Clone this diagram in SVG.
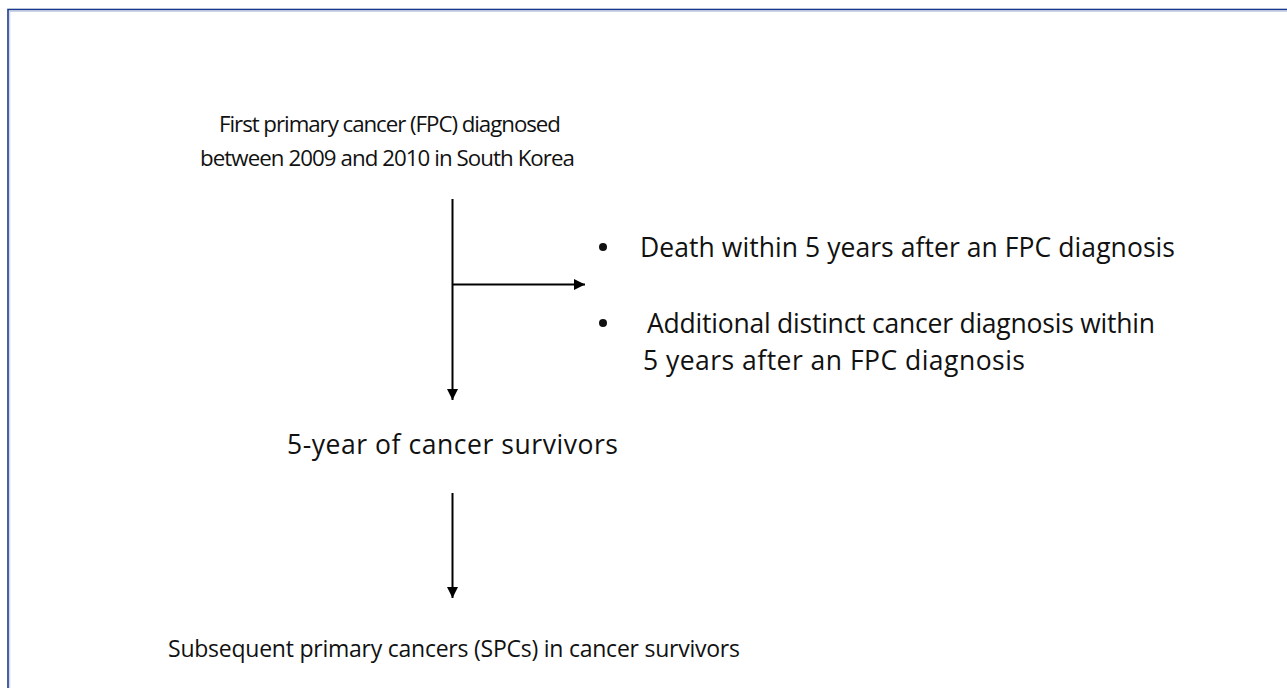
<svg xmlns="http://www.w3.org/2000/svg" width="1287" height="688" viewBox="0 0 1287 688">
<style>
text{font-family:"Open Sans","Noto Sans","Liberation Sans",sans-serif;fill:#111}
.top{font-size:22.3px}
.bul{font-size:26.5px}
.mid{font-size:26.5px}
.bot{font-size:23px}
.conn{stroke:#000;stroke-width:2;fill:none}
</style>
<defs>
<marker id="ah" markerUnits="userSpaceOnUse" markerWidth="12" markerHeight="12" refX="11" refY="5.5" orient="auto">
<path d="M0,0 L11,5.5 L0,11 z" fill="#000"/>
</marker>
</defs>
<rect width="1287" height="688" fill="#fff"/>
<g id="frame">
<rect x="8" y="9.5" width="1300" height="700" fill="none" stroke="#1c3a8c" stroke-width="1.6"/>
<rect x="9.8" y="11.3" width="1300" height="700" fill="none" stroke="#b4c0e0" stroke-width="0.8"/>
</g>
<g id="connectors">
<line class="conn" x1="452.5" y1="199" x2="452.5" y2="400" marker-end="url(#ah)"/>
<line class="conn" x1="452.5" y1="284.5" x2="585" y2="284.5" marker-end="url(#ah)"/>
<line class="conn" x1="452.5" y1="493" x2="452.5" y2="598" marker-end="url(#ah)"/>
</g>
<g id="fpc">
<text class="top" x="219" y="132" textLength="342">First primary cancer (FPC) diagnosed</text>
<text class="top" x="200" y="166" textLength="375">between 2009 and 2010 in South Korea</text>
</g>
<g id="exclusions">
<circle cx="603" cy="247" r="4" fill="#111"/>
<text class="bul" x="640" y="257" textLength="535">Death within 5 years after an FPC diagnosis</text>
<circle cx="603" cy="323" r="4" fill="#111"/>
<text class="bul" x="647" y="333" textLength="508">Additional distinct cancer diagnosis within</text>
<text class="bul" x="643" y="370" textLength="382">5 years after an FPC diagnosis</text>
</g>
<g id="survivors">
<text class="mid" x="287" y="454" textLength="331">5-year of cancer survivors</text>
</g>
<g id="spc">
<text class="bot" x="168" y="657" textLength="572">Subsequent primary cancers (SPCs) in cancer survivors</text>
</g>
</svg>
